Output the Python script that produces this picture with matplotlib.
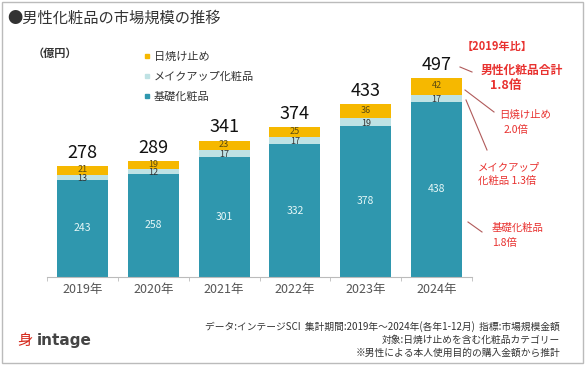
import matplotlib.pyplot as plt
from matplotlib.lines import Line2D
from matplotlib.patches import Rectangle

plt.rcParams['font.family'] = ['Noto Sans CJK JP', 'DejaVu Sans']

# data (億円)
years = ['2019年', '2020年', '2021年', '2022年', '2023年', '2024年']
kiso = [243, 258, 301, 332, 378, 438]
makeup = [13, 12, 17, 17, 19, 17]
hiyake = [21, 19, 23, 25, 36, 42]
totals = [278, 289, 341, 374, 433, 497]

c_kiso = '#2F97AE'
c_makeup = '#BFE2E4'
c_hiyake = '#F6B800'
red = '#E8312F'

W, H = 585, 366
fig = plt.figure(figsize=(W / 100, H / 100), dpi=100)


def fx(x):
    return x / W


def fy(y):
    return 1 - y / H


ax = fig.add_axes([fx(47), fy(277), fx(472) - fx(47), fy(40) - fy(277)])
x = range(len(years))
bw = 0.72
ax.bar(x, kiso, bw, color=c_kiso)
b1 = [k for k in kiso]
ax.bar(x, makeup, bw, bottom=b1, color=c_makeup)
b2 = [k + m for k, m in zip(kiso, makeup)]
ax.bar(x, hiyake, bw, bottom=b2, color=c_hiyake)

for i in x:
    ax.text(i, kiso[i] / 2, str(kiso[i]), ha='center', va='center',
            fontsize=7.5, color='#E6F7F7')
    ax.text(i, b1[i] + makeup[i] / 2 - 3, str(makeup[i]), ha='center', va='center',
            fontsize=6.5, color='#333333')
    ax.text(i, b2[i] + hiyake[i] / 2 + 2, str(hiyake[i]), ha='center', va='center',
            fontsize=6.5, color='#5a4a10')
    ax.annotate(str(totals[i]), (i, totals[i]), xytext=(0, 3),
                textcoords='offset points', ha='center', va='bottom',
                fontsize=13, color='#111111')

ax.set_xlim(-0.5, 5.5)
ax.set_ylim(0, 237 / 0.4)
ax.set_xticks(list(x))
ax.set_xticklabels(years, fontsize=9, color='#555555')
ax.set_xticks([i - 0.5 for i in range(len(years) + 1)], minor=True)
ax.tick_params(axis='x', which='major', length=0, pad=4)
ax.tick_params(axis='x', which='minor', length=3, color='#BBBBBB')
ax.set_yticks([])
for s in ['top', 'right', 'left']:
    ax.spines[s].set_visible(False)
ax.spines['bottom'].set_color('#BBBBBB')

# title / unit
fig.text(fx(7), fy(18), '●男性化粧品の市場規模の推移', fontsize=11, color='#333333',
         va='center', ha='left')
fig.text(fx(33), fy(53), '（億円）', fontsize=8, color='#333333', va='center',
         ha='left', weight='bold')

# legend
handles = [Line2D([], [], ls='', marker='s', ms=3.5, color=c) for c in
           [c_hiyake, c_makeup, c_kiso]]
fig.legend(handles, ['日焼け止め', 'メイクアップ化粧品', '基礎化粧品'],
           loc='upper left', bbox_to_anchor=(fx(134), fy(42)), frameon=False,
           fontsize=8, handlelength=0.6, handletextpad=0.3, labelspacing=0.85,
           labelcolor='#333333')

# red annotations
fig.text(fx(462), fy(46), '【2019年比】', fontsize=8, color=red, weight='bold',
         va='center')
fig.text(fx(481), fy(70), '男性化粧品合計', fontsize=8.5, color=red, weight='bold',
         va='center')
fig.text(fx(490), fy(86), '1.8倍', fontsize=9, color=red, weight='bold',
         va='center')
fig.text(fx(499), fy(115), '日焼け止め', fontsize=7.5, color=red, va='center')
fig.text(fx(504), fy(130), '2.0倍', fontsize=7.5, color=red, va='center')
fig.text(fx(478), fy(167), 'メイクアップ', fontsize=7.5, color=red, va='center')
fig.text(fx(478), fy(181), '化粧品 1.3倍', fontsize=7.5, color=red, va='center')
fig.text(fx(492), fy(228), '基礎化粧品', fontsize=7.5, color=red, va='center')
fig.text(fx(492), fy(243), '1.8倍', fontsize=7.5, color=red, va='center')

lc = '#B05A5A'
for (x0, y0, x1, y1) in [(460, 67, 472, 72), (465, 90, 494, 112),
                         (466, 100, 487, 150), (468, 222, 482, 232)]:
    fig.add_artist(Line2D([fx(x0), fx(x1)], [fy(y0), fy(y1)], color=lc, lw=0.8))

# footer
fig.text(fx(560), fy(327), 'データ:インテージSCI  集計期間:2019年～2024年(各年1-12月)  指標:市場規模金額',
         fontsize=7, color='#333333', ha='right', va='center')
fig.text(fx(560), fy(340), '対象:日焼け止めを含む化粧品カテゴリー',
         fontsize=7, color='#333333', ha='right', va='center')
fig.text(fx(560), fy(353), '※男性による本人使用目的の購入金額から推計',
         fontsize=7, color='#333333', ha='right', va='center')

# logo
fig.text(fx(17), fy(341), '⾝', fontsize=11, color='#D52B1E', ha='left', va='center')
fig.text(fx(37), fy(340), 'intage', fontsize=11, color='#444444', ha='left',
         va='center', weight='bold', family='DejaVu Sans')

# frame
fig.add_artist(Rectangle((fx(2), fy(363)), fx(581), fy(2) - fy(363),
                         fill=False, ec='#BBBBBB', lw=1))

fig.savefig('out.png', dpi=100)
